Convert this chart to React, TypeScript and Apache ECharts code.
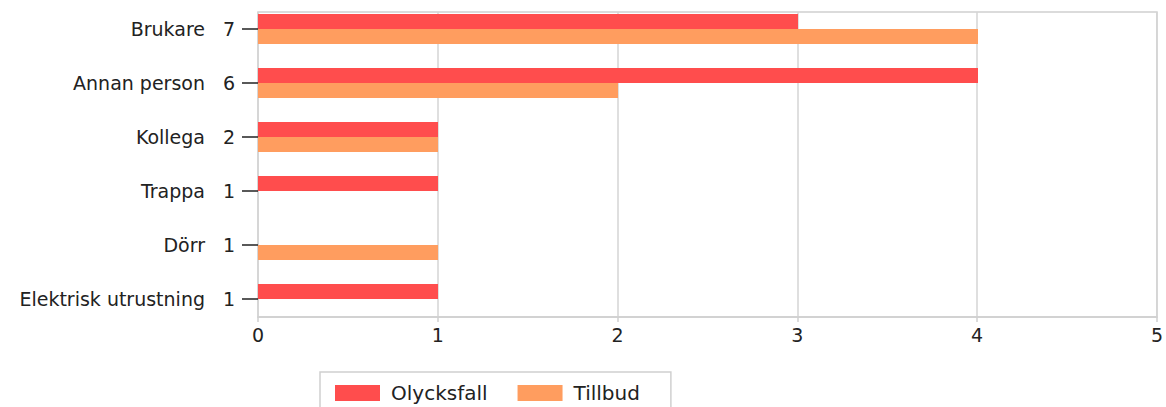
import React, { useEffect, useRef } from "react";
import * as echarts from "echarts";

const categories = ["Brukare", "Annan person", "Kollega", "Trappa", "Dörr", "Elektrisk utrustning"];
const olycksfall = [3, 4, 1, 1, 0, 1];
const tillbud = [4, 2, 1, 0, 1, 0];
const xTicks = [0, 1, 2, 3, 4, 5];

const FONT = '"DejaVu Sans", sans-serif';

export default function App() {
  const ref = useRef<HTMLDivElement>(null);
  useEffect(() => {
    if (!ref.current) return;
    const chart = echarts.init(ref.current, undefined, { renderer: "svg" });
    const totals = categories.map((_, i) => olycksfall[i] + tillbud[i]);
    chart.setOption({
      animation: false,
      backgroundColor: "#ffffff",
      grid: [
        { left: 258, right: 8, top: 12, bottom: 90, show: true, borderColor: "#cfcfcf", borderWidth: 1.5 },
        { left: 258, right: 8, top: 2, height: 324 },
      ],
      xAxis: [
        {
          type: "value",
          gridIndex: 0,
          min: xTicks[0],
          max: xTicks[xTicks.length - 1],
          interval: 1,
          axisLine: { show: true, lineStyle: { color: "#cfcfcf", width: 1.5 } },
          axisTick: { show: true, length: 5, lineStyle: { color: "#cfcfcf", width: 1.5 } },
          splitLine: { show: true, lineStyle: { color: "#d4d4d4", width: 1.5 } },
          axisLabel: { color: "#222", fontSize: 19, fontFamily: FONT, margin: 8 },
        },
        {
          type: "value",
          gridIndex: 1,
          min: xTicks[0],
          max: xTicks[xTicks.length - 1],
          interval: 1,
          show: false,
        },
      ],
      yAxis: [
        {
          type: "value",
          gridIndex: 0,
          show: false,
        },
        {
          type: "category",
          gridIndex: 1,
          inverse: true,
          data: categories,
          axisLine: { show: false },
          axisTick: { show: true, alignWithLabel: true, length: 16, lineStyle: { color: "#222", width: 1.5 } },
          splitLine: { show: false },
          axisLabel: {
            margin: 23,
            formatter: (v: string, i: number) => `{n|${v}}{t|${totals[i]}}`,
            rich: {
              n: { color: "#222", fontSize: 19, fontFamily: FONT },
              t: { color: "#222", fontSize: 19, fontFamily: FONT, width: 30, align: "right" },
            },
          },
        },
      ],
      legend: {
        left: 320,
        top: 372,
        orient: "horizontal",
        itemWidth: 45,
        itemHeight: 16,
        itemGap: 30,
        padding: [11, 31, 11, 15],
        borderColor: "#d0d0d0",
        borderWidth: 1.5,
        icon: "rect",
        textStyle: { color: "#222", fontSize: 20, fontFamily: FONT, padding: [0, 0, 0, 6] },
        data: ["Olycksfall", "Tillbud"],
      },
      series: [
        {
          name: "Olycksfall",
          type: "bar",
          xAxisIndex: 1,
          yAxisIndex: 1,
          data: olycksfall,
          barWidth: 15,
          barGap: "0%",
          itemStyle: { color: "#FF4D4D" },
        },
        {
          name: "Tillbud",
          type: "bar",
          xAxisIndex: 1,
          yAxisIndex: 1,
          data: tillbud,
          barWidth: 15,
          barGap: "0%",
          itemStyle: { color: "#FF9D5F" },
        },
      ],
    });
    return () => chart.dispose();
  }, []);
  return (
    <div
      ref={ref}
      style={{ position: "fixed", left: 0, top: 0, width: 1166, height: 407, background: "#fff" }}
    />
  );
}
